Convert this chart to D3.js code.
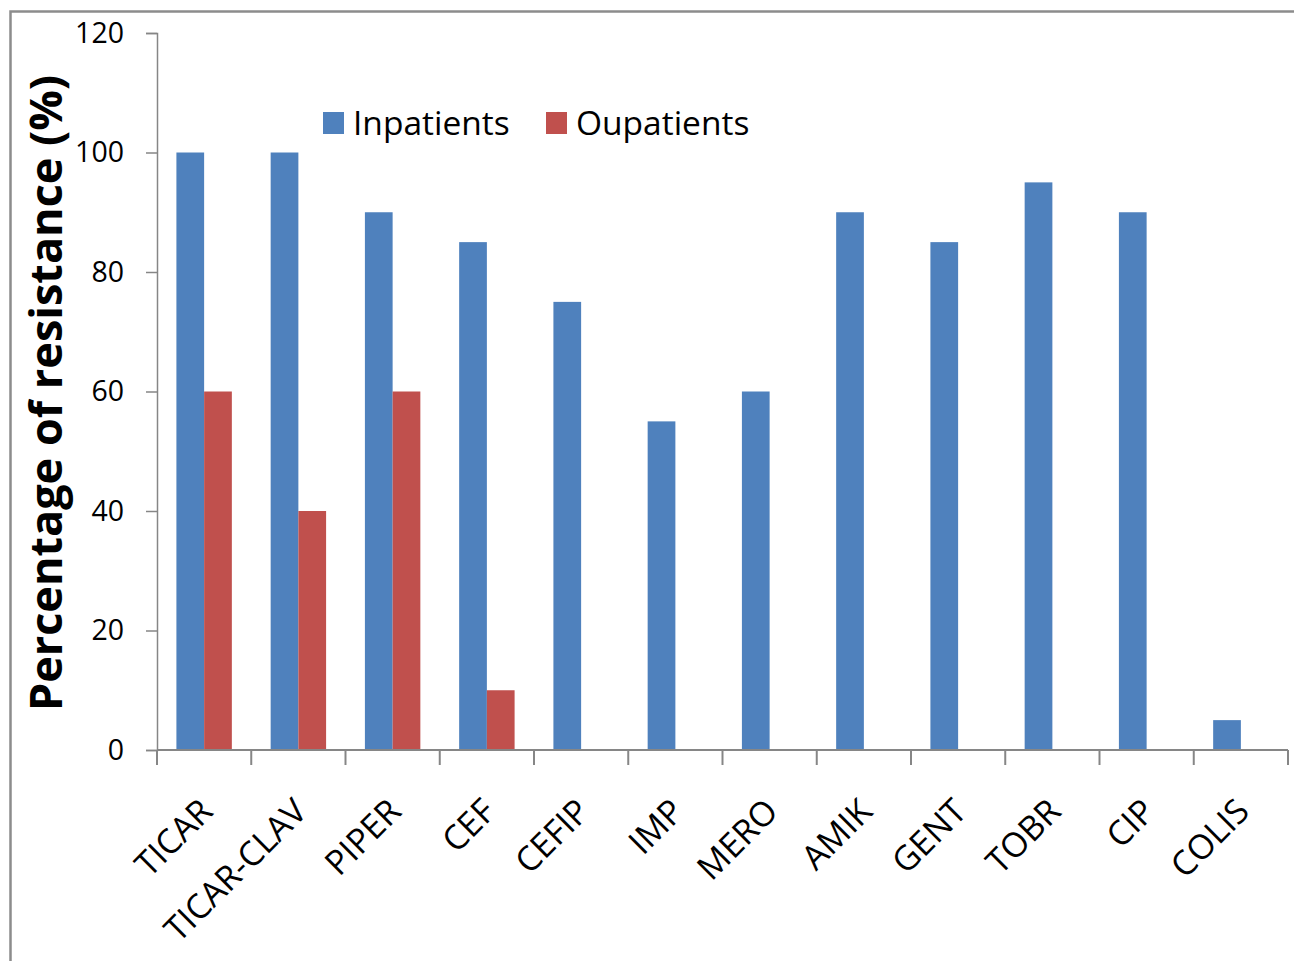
<!DOCTYPE html>
<html>
<head>
<meta charset="utf-8">
<script src="https://cdn.jsdelivr.net/npm/d3@7"></script>
<style>
  html, body { margin: 0; padding: 0; background: #fff; }
  svg text { font-family: "Open Sans", "Liberation Sans", sans-serif; fill: #000; }
</style>
</head>
<body>
<svg id="chart" width="1294" height="961"></svg>
<script>
// Antibiotic resistance by patient group
const categories = ["TICAR", "TICAR-CLAV", "PIPER", "CEF", "CEFIP", "IMP", "MERO", "AMIK", "GENT", "TOBR", "CIP", "COLIS"];
const inpatients = [100, 100, 90, 85, 75, 55, 60, 90, 85, 95, 90, 5];
const outpatients = [60, 40, 60, 10, 0, 0, 0, 0, 0, 0, 0, 0];
const seriesNames = ["Inpatients", "Oupatients"];
const seriesColors = ["#4F81BD", "#C0504D"];
const yTicks = [0, 20, 40, 60, 80, 100, 120];

const svg = d3.select("#chart");

// outer frame of the chart area
svg.append("rect")
  .attr("x", 10.5).attr("y", 11.5)
  .attr("width", 1400).attr("height", 1100)
  .attr("fill", "none").attr("stroke", "#8c8c8c").attr("stroke-width", 2.5);

const plot = { left: 157, right: 1288, top: 33, bottom: 750 };

const x = d3.scaleBand().domain(categories).range([plot.left, plot.right]).paddingInner(0).paddingOuter(0);
const inner = d3.scaleBand().domain(seriesNames).range([0, x.bandwidth()]).paddingInner(0).paddingOuter(0.7);
const y = d3.scaleLinear().domain([0, 120]).range([plot.bottom, plot.top]);

const rows = categories.map((c, i) => ({ cat: c, vals: [inpatients[i], outpatients[i]] }));

// bars
const groups = svg.append("g").selectAll("g").data(rows).join("g")
  .attr("transform", d => `translate(${x(d.cat)},0)`);
groups.selectAll("rect")
  .data(d => d.vals.map((v, k) => ({ v, k })).filter(e => e.v > 0))
  .join("rect")
  .attr("x", e => inner(seriesNames[e.k]))
  .attr("width", inner.bandwidth())
  .attr("y", e => y(e.v))
  .attr("height", e => y(0) - y(e.v))
  .attr("fill", e => seriesColors[e.k]);

// y axis
const yAxis = svg.append("g").attr("transform", `translate(${plot.left},0)`)
  .call(d3.axisLeft(y).tickValues(yTicks).tickSize(11).tickPadding(22));
yAxis.select(".domain").attr("stroke", "#868686").attr("stroke-width", 1.5);
yAxis.selectAll(".tick line").attr("stroke", "#868686").attr("stroke-width", 1.5);
yAxis.selectAll(".tick text").attr("font-size", 28.5).attr("fill", "#000").attr("font-family", "'Open Sans', sans-serif");

// x axis with ticks at category boundaries
const xAxis = svg.append("g").attr("transform", `translate(0,${plot.bottom})`);
xAxis.append("line")
  .attr("x1", plot.left).attr("x2", plot.right)
  .attr("stroke", "#868686").attr("stroke-width", 2);
const bounds = categories.map(c => x(c)).concat([plot.right]);
xAxis.selectAll("line.tk").data(bounds).join("line").attr("class", "tk")
  .attr("x1", d => d).attr("x2", d => d).attr("y1", 0).attr("y2", 15)
  .attr("stroke", "#868686").attr("stroke-width", 2);
xAxis.selectAll("text").data(categories).join("text")
  .attr("transform", d => `translate(${x(d) + x.bandwidth() / 2 + 2},${55}) rotate(-45)`)
  .attr("text-anchor", "end")
  .attr("dy", "0.35em")
  .attr("font-size", 34)
  .text(d => d);

// y axis title
svg.append("text")
  .attr("transform", `translate(62,${393}) rotate(-90)`)
  .attr("text-anchor", "middle")
  .attr("font-size", 45)
  .attr("font-weight", "bold")
  .text("Percentage of resistance (%)");

// legend
const legendX = [323, 546];
const legend = svg.append("g").selectAll("g").data(seriesNames).join("g")
  .attr("transform", (d, i) => `translate(${legendX[i]},112)`);
legend.append("rect").attr("width", 21).attr("height", 22).attr("fill", (d, i) => seriesColors[i]);
legend.append("text").attr("x", 30).attr("y", 23).attr("font-size", 33.5).text(d => d);
</script>
</body>
</html>
